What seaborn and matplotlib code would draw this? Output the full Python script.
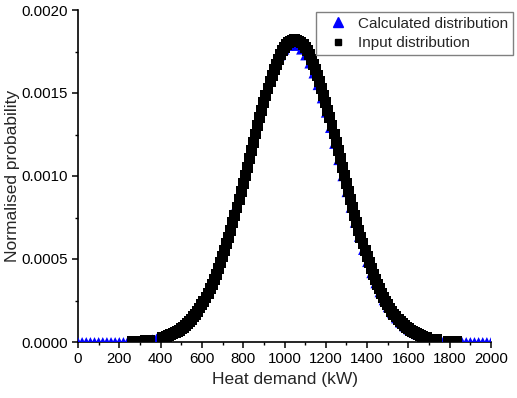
import matplotlib
matplotlib.use("Agg")
import matplotlib.pyplot as plt
from matplotlib.lines import Line2D
from matplotlib.ticker import MultipleLocator, FormatStrFormatter
import pandas as pd
import seaborn as sns

# --- data ---
# calculated distribution (blue triangles)
calc_kw = [0, 20, 40, 60, 80, 100, 120, 140, 160, 180, 200, 220,
           240, 260, 280, 300, 320, 340, 360, 380, 400, 420, 440, 460, 480, 500,
           520, 540, 560, 580, 600, 620, 640, 660, 680, 700, 720, 740, 760, 780,
           800, 820, 840, 860, 880, 900, 920, 940, 960, 980, 1000, 1020, 1040,
           1060, 1080, 1100, 1120, 1140, 1160, 1180, 1200, 1220, 1240, 1260, 1280,
           1300, 1320, 1340, 1360, 1380, 1400, 1420, 1440, 1460, 1480, 1500, 1520,
           1540, 1560, 1580, 1600, 1620, 1640, 1660, 1680, 1700, 1720, 1740, 1760,
           1780, 1800, 1820, 1840, 1860, 1880, 1900, 1920, 1940, 1960, 1980, 2000]
calc_prob = [0.0, 0.0, 0.0, 0.0, 0.0, 0.0, 0.0, 0.0, 0.0, 0.0, 0.0, 0.0,
             0.0000027, 0.0000037, 0.0000051, 0.0000069, 0.0000093, 0.0000124,
             0.0000164, 0.0000216, 0.0000281, 0.0000362, 0.0000464, 0.0000590,
             0.0000743, 0.0000929, 0.000115, 0.000142, 0.000173, 0.000209,
             0.000251, 0.000299, 0.000353, 0.000414, 0.000481, 0.000554,
             0.000633, 0.000718, 0.000808, 0.000902, 0.000998, 0.001095,
             0.001193, 0.001289, 0.001381, 0.001467, 0.001547, 0.001617,
             0.001677, 0.001726, 0.001761, 0.001783, 0.001790,
             0.001783, 0.001761, 0.001726, 0.001677, 0.001617, 0.001547,
             0.001467, 0.001381, 0.001289, 0.001193, 0.001095, 0.000998,
             0.000902, 0.000808, 0.000718, 0.000633, 0.000554, 0.000481,
             0.000414, 0.000353, 0.000299, 0.000251, 0.000209, 0.000173,
             0.000142, 0.000115, 0.0000929, 0.0000743, 0.0000590, 0.0000464,
             0.0000362, 0.0000281, 0.0000216, 0.0000164, 0.0000124, 0.0000093,
             0.0000069, 0.0000051, 0.0000037, 0.0000027,
             0.0, 0.0, 0.0, 0.0, 0.0, 0.0, 0.0, 0.0]

# input distribution (black squares)
input_kw = [265, 285, 305, 325, 345,
            410, 420, 430, 440, 450, 460, 470, 480, 490, 500, 510, 520, 530, 540,
            550, 560, 570, 580, 590, 600, 610, 620, 630, 640, 650, 660, 670, 680,
            690, 700, 710, 720, 730, 740, 750, 760, 770, 780, 790, 800, 810, 820,
            830, 840, 850, 860, 870, 880, 890, 900, 910, 920, 930, 940, 950, 960,
            970, 980, 990, 1000, 1010, 1020, 1030, 1040, 1050,
            1060, 1070, 1080, 1090, 1100, 1110, 1120, 1130, 1140, 1150, 1160, 1170,
            1180, 1190, 1200, 1210, 1220, 1230, 1240, 1250, 1260, 1270, 1280, 1290,
            1300, 1310, 1320, 1330, 1340, 1350, 1360, 1370, 1380, 1390, 1400, 1410,
            1420, 1430, 1440, 1450, 1460, 1470, 1480, 1490, 1500, 1510, 1520, 1530,
            1540, 1550, 1560, 1570, 1580, 1590, 1600, 1610, 1620, 1630, 1640, 1650,
            1660, 1670, 1680, 1690,
            1720, 1735, 1795, 1815, 1835]
input_prob = [0.0000031, 0.0000043, 0.0000059, 0.0000080, 0.0000107,
              0.0000264, 0.0000302, 0.0000343, 0.0000390, 0.0000442, 0.0000499,
              0.0000563, 0.0000635, 0.0000713, 0.0000800, 0.0000895, 0.0000999,
              0.000111, 0.000124, 0.000138, 0.000152, 0.000168, 0.000186,
              0.000205, 0.000225, 0.000246, 0.000269, 0.000294, 0.000321,
              0.000349, 0.000378, 0.000409, 0.000442, 0.000477, 0.000513,
              0.000551, 0.000591, 0.000632, 0.000674, 0.000718, 0.000763,
              0.000810, 0.000857, 0.000905, 0.000954, 0.001004, 0.001054,
              0.001104, 0.001154, 0.001204, 0.001253, 0.001302, 0.001350,
              0.001397, 0.001443, 0.001486, 0.001528, 0.001568, 0.001606,
              0.001641, 0.001674, 0.001704, 0.001730, 0.001754, 0.001774,
              0.001790, 0.001803, 0.001812, 0.001818, 0.001820,
              0.001818, 0.001812, 0.001803, 0.001790, 0.001774, 0.001754,
              0.001730, 0.001704, 0.001674, 0.001641, 0.001606, 0.001568,
              0.001528, 0.001486, 0.001443, 0.001397, 0.001350, 0.001302,
              0.001253, 0.001204, 0.001154, 0.001104, 0.001054, 0.001004,
              0.000954, 0.000905, 0.000857, 0.000810, 0.000763, 0.000718,
              0.000674, 0.000632, 0.000591, 0.000551, 0.000513, 0.000477,
              0.000442, 0.000409, 0.000378, 0.000349, 0.000321, 0.000294,
              0.000269, 0.000246, 0.000225, 0.000205, 0.000186, 0.000168,
              0.000152, 0.000138, 0.000124, 0.000111, 0.0000999, 0.0000895,
              0.0000800, 0.0000713, 0.0000635, 0.0000563, 0.0000499, 0.0000442,
              0.0000390, 0.0000343, 0.0000302, 0.0000264,
              0.0000176, 0.0000143, 0.0000059, 0.0000043, 0.0000031]

calc_df = pd.DataFrame({"kw": calc_kw, "prob": calc_prob})
input_df = pd.DataFrame({"kw": input_kw, "prob": input_prob})

# --- plot ---
sns.set_style("ticks")
plt.rcParams["font.family"] = ["Liberation Sans", "DejaVu Sans"]

fig = plt.figure(figsize=(5.17, 3.98), dpi=100)
ax = fig.add_axes([78 / 517, 1 - 342 / 398, 413 / 517, 332 / 398])

sns.scatterplot(data=calc_df, x="kw", y="prob", ax=ax, marker="^", s=50,
                color="#0000ff", edgecolor="none", linewidth=0, legend=False, zorder=2)
sns.scatterplot(data=input_df, x="kw", y="prob", ax=ax, marker="s", s=62,
                color="black", edgecolor="none", linewidth=0, legend=False, zorder=3)

ax.set_xlim(0, 2000)
ax.set_ylim(0, 0.0020)
ax.xaxis.set_major_locator(MultipleLocator(200))
ax.xaxis.set_minor_locator(MultipleLocator(100))
ax.yaxis.set_major_locator(MultipleLocator(0.0005))
ax.yaxis.set_minor_locator(MultipleLocator(0.00025))
ax.yaxis.set_major_formatter(FormatStrFormatter("%.4f"))

sns.despine(ax=ax)
for sp in ("left", "bottom"):
    ax.spines[sp].set_linewidth(1.2)
    ax.spines[sp].set_color("black")
    ax.spines[sp].set_zorder(1)
ax.tick_params(which="major", direction="out", length=4.5, width=1.1,
               labelsize=10.8, colors="black", pad=3)
ax.tick_params(which="minor", direction="out", length=2.5, width=1.0, colors="black")

ax.set_xlabel("Heat demand (kW)", fontsize=12.5, labelpad=4)
ax.set_ylabel("Normalised probability", fontsize=12.5)
ax.yaxis.set_label_coords(-0.14, 0.5)

handles = [
    Line2D([], [], linestyle="none", marker="^", color="#0000ff", markersize=6.5),
    Line2D([], [], linestyle="none", marker="s", color="black", markersize=4.5),
]
leg = ax.legend(handles, ["Calculated distribution", "Input distribution"],
                loc="upper right", bbox_to_anchor=(513 / 517, 1 - 12 / 398),
                bbox_transform=fig.transFigure, borderaxespad=0, fontsize=11,
                frameon=True, fancybox=False, framealpha=1, edgecolor="#808080",
                handletextpad=0.25, borderpad=0.3, labelspacing=0.35,
                handlelength=2.2)
leg.get_frame().set_linewidth(1.0)

fig.savefig("out.png", dpi=100)
